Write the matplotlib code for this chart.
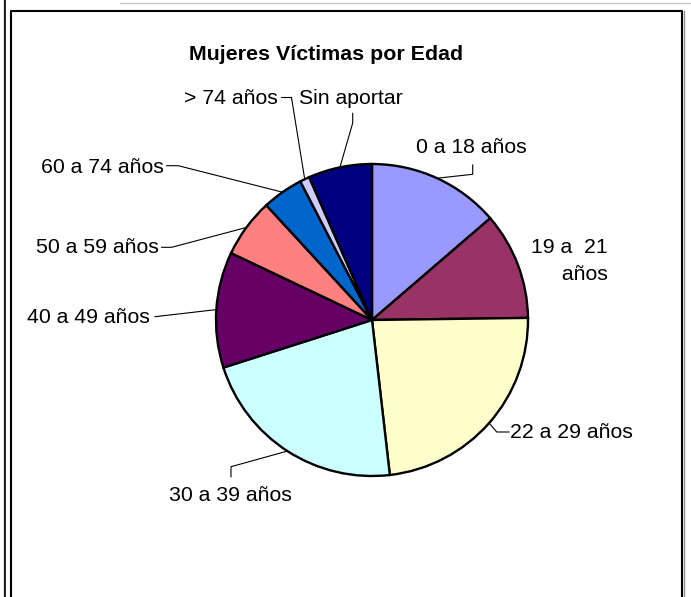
import matplotlib.pyplot as plt
import numpy as np

plt.rcParams['font.family'] = ['Liberation Sans', 'DejaVu Sans']

# datos del grafico (porcentaje de victimas por edad)
edades = ['0 a 18 años', '19 a  21\n años', '22 a 29 años', '30 a 39 años',
          '40 a 49 años', '50 a 59 años', '60 a 74 años', '> 74 años', 'Sin aportar']
porcentajes = [13.7, 11.1, 23.4, 21.9, 12.0, 6.1, 4.25, 1.0, 6.6]
colores = ['#9999FF', '#993366', '#FFFFCC', '#CCFFFF', '#660066',
           '#FF8080', '#0066CC', '#CCCCFF', '#000080']

W, H = 691, 597
FS = 15.3


def py(y):
    # paso de coordenada de pixel (arriba hacia abajo) a la del eje
    return H - y


fig = plt.figure(figsize=(W / 100, H / 100), dpi=100)
ax = fig.add_axes([0, 0, 1, 1])

cx, cy, r = 372, py(320), 156
wedges, _ = ax.pie(porcentajes, colors=colores, startangle=90, counterclock=False,
                   center=(cx, cy), radius=r, frame=True,
                   wedgeprops=dict(edgecolor='black', linewidth=1.7))
ax.set_xlim(0, W)
ax.set_ylim(0, H)
ax.axis('off')

ax.text(326.5, py(60), 'Mujeres Víctimas por Edad', ha='center', va='baseline',
        fontsize=15.4, fontweight='bold')

# posicion de cada etiqueta (x izquierda / derecha, linea base) y codo de la linea guia
etiquetas = [
    (416, 153.3, 'left', [(472.7, 165), (472.7, 174.3)]),
    (608, 253.3, 'right', None),
    (510, 438.3, 'left', [(509, 432), (496.7, 432)]),
    (169, 501, 'left', [(231, 476.7), (231, 466.7)]),
    (27.5, 323.3, 'left', [(155, 316.7)]),
    (36, 253.3, 'left', [(161.7, 247.3), (171.7, 247.3)]),
    (41, 173.3, 'left', [(166.7, 165.7), (178.3, 165.7)]),
    (184.5, 104.5, 'left', [(281.7, 97.5), (291.5, 97.5)]),
    (299.5, 103.5, 'left', [(352.7, 113.3), (352.7, 123)]),
]

for w, nombre, (tx, ty, ha, codo) in zip(wedges, edades, etiquetas):
    if '\n' in nombre:
        ax.text(tx, py(ty), nombre.split('\n')[0], ha=ha, va='baseline', fontsize=FS)
        ax.text(tx, py(ty + 26.7), nombre.split('\n')[1], ha=ha, va='baseline', fontsize=FS)
    else:
        ax.text(tx, py(ty), nombre, ha=ha, va='baseline', fontsize=FS)
    if codo:
        ang = np.deg2rad((w.theta1 + w.theta2) / 2)
        xs = [p[0] for p in codo] + [cx + r * np.cos(ang)]
        ys = [py(p[1]) for p in codo] + [cy + r * np.sin(ang)]
        ax.plot(xs, ys, color='black', linewidth=0.8)

# marco de la hoja
ax.plot([4, 4], [0, H], color='#909090', linewidth=1, clip_on=False)
ax.plot([5.5, 5.5], [0, H], color='black', linewidth=1.2, clip_on=False)
ax.plot([120, W], [py(3), py(3)], color='#c8c8c8', linewidth=1, clip_on=False)
ax.plot([11.5, 11.5, 682.5, 682.5], [0, py(10.5), py(10.5), 0], color='black',
        linewidth=1.5, clip_on=False)
ax.plot([684, 684], [0, py(11)], color='#909090', linewidth=1, clip_on=False)

fig.savefig('out.png', dpi=100)
